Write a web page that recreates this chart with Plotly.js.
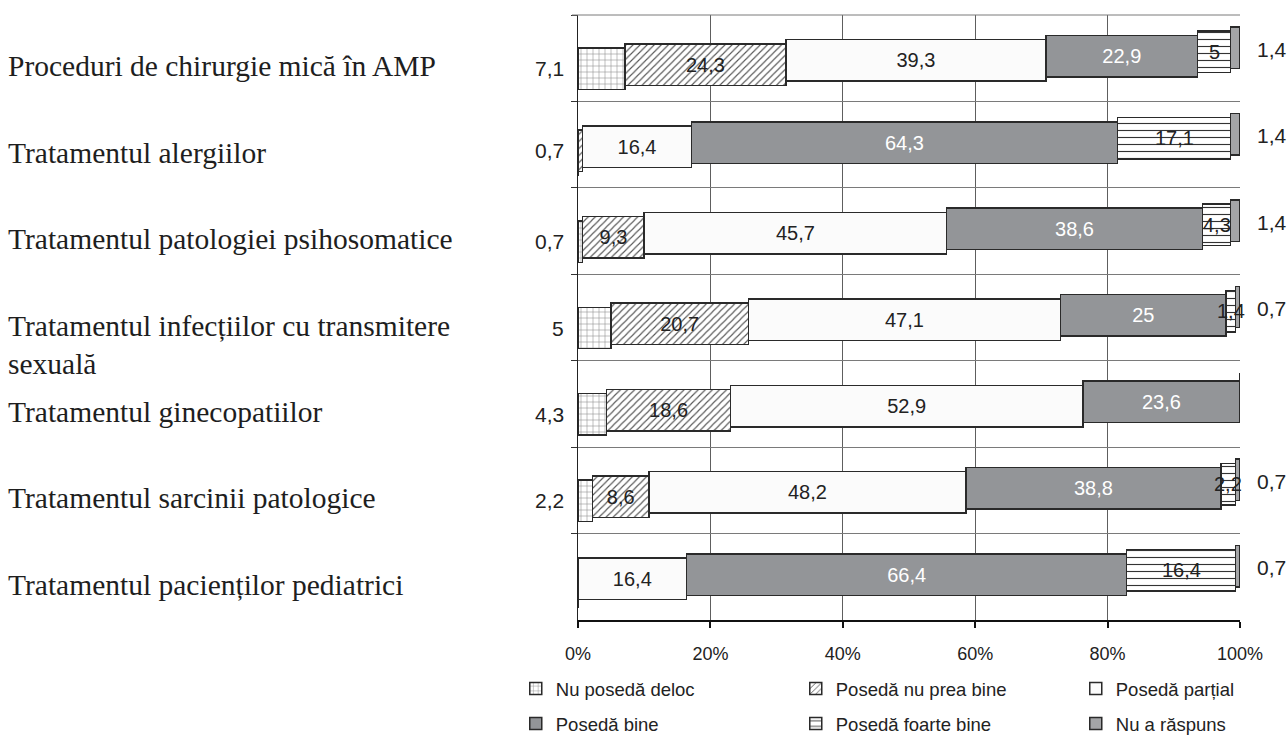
<!DOCTYPE html>
<html><head><meta charset="utf-8">
<script src="https://cdn.plot.ly/plotly-3.0.1.min.js"></script>
<style>html,body{margin:0;padding:0;background:#fff;}#chart{width:1288px;height:735px;}</style>
</head><body><div id="chart"></div>
<script>
const categories = ["Proceduri de chirurgie mică în AMP", "Tratamentul alergiilor", "Tratamentul patologiei psihosomatice", "Tratamentul infecțiilor cu transmitere<br>sexuală", "Tratamentul ginecopatiilor", "Tratamentul sarcinii patologice", "Tratamentul pacienților pediatrici"];
const seriesNames = ["Nu posedă deloc", "Posedă nu prea bine", "Posedă parțial", "Posedă bine", "Posedă foarte bine", "Nu a răspuns"];
const nuPosedaDeloc    = [7.1, 0,    0.7,  5,    4.3,  2.2,  0];
const posedaNuPreaBine = [24.3, 0.7, 9.3,  20.7, 18.6, 8.6,  0];
const posedaPartial    = [39.3, 16.4, 45.7, 47.1, 52.9, 48.2, 16.4];
const posedaBine       = [22.9, 64.3, 38.6, 25,   23.6, 38.8, 66.4];
const posedaFoarteBine = [5,    17.1, 4.3,  1.4,  0,    2.2,  16.4];
const nuARaspuns       = [1.4,  1.4,  1.4,  0.7,  0,    0.7,  0.7];
const xTickVals = [0, 20, 40, 60, 80, 100];
const xTickText = ["0%", "20%", "40%", "60%", "80%", "100%"];

const series = [nuPosedaDeloc, posedaNuPreaBine, posedaPartial, posedaBine, posedaFoarteBine, nuARaspuns];
const fmt = v => String(v).replace('.', ',');
const SANS = '"Liberation Sans", Arial, sans-serif';
const SERIF = '"Liberation Serif", "Times New Roman", serif';

const styles = [
  {color: '#ffffff', pattern: {shape: '+', fgcolor: '#8c8c8c', bgcolor: '#ffffff', size: 6, solidity: 0.18}, tc: '#222'},
  {color: '#ffffff', pattern: {shape: '/', fgcolor: '#555555', bgcolor: '#ffffff', size: 5, solidity: 0.22}, tc: '#222'},
  {color: '#fbfbfb', tc: '#222'},
  {color: '#939598', tc: '#ffffff'},
  {color: '#ffffff', pattern: {shape: '-', fgcolor: '#333333', bgcolor: '#ffffff', size: 7, solidity: 0.16}, tc: '#222'},
  {color: '#a4a5a7', tc: '#222'}
];

// which series gets its label outside-left in each row
const leftSeries = categories.map((c, i) => series[0][i] > 0 ? 0 : (series[1][i] > 0 ? 1 : -1));
// row totals (chart is normalised to 100 %)
const rowTotals = categories.map((c, i) => series.reduce((s, arr) => s + arr[i], 0));

const BW = 0.48, STEP = 0.0486, PX = 4.2;
const traces = series.map((vals, k) => {
  const text = vals.map((v, i) => {
    if (k >= 4) return '';
    if (leftSeries[i] === k) return '';
    return v > 0 ? fmt(v) : '';
  });
  const marker = {color: styles[k].color, line: {color: '#2a2a2a', width: 1.5}};
  if (styles[k].pattern) marker.pattern = styles[k].pattern;
  return {
    type: 'bar', orientation: 'h', name: seriesNames[k],
    legend: k < 3 ? 'legend' : 'legend2',
    y: categories, x: vals,
    width: BW, offset: (2.5 - k) * STEP - BW / 2,
    marker: marker,
    text: text, textposition: 'inside', insidetextanchor: 'middle',
    constraintext: 'none', textangle: 0,
    textfont: {family: SANS, size: 20, color: styles[k].tc},
    hoverinfo: 'x+name'
  };
});

const annotations = [];
categories.forEach((c, i) => {
  annotations.push({xref: 'paper', yref: 'y', x: -0.8645, y: c, xanchor: 'left', yanchor: 'top', yshift: 10,
    text: c, align: 'left', showarrow: false, font: {family: SERIF, size: 29.5, color: '#1e1e1e'}});
  const ls = leftSeries[i];
  if (ls >= 0) {
    annotations.push({xref: 'x', yref: 'y', x: 0, y: c, xanchor: 'right', yanchor: 'middle', xshift: -12,
      yshift: -(2.5 - ls) * PX, text: fmt(series[ls][i]), showarrow: false,
      font: {family: SANS, size: 21, color: '#222'}});
  }
  // "Posedă foarte bine" labels drawn on top of all bars
  const fb = posedaFoarteBine[i];
  if (fb > 0) {
    const before = series.slice(0, 4).reduce((s, arr) => s + arr[i], 0);
    annotations.push({xref: 'x', yref: 'y', x: (before + fb / 2) * 100 / rowTotals[i], y: c,
      xanchor: 'center', yanchor: 'middle', yshift: -(2.5 - 4) * PX, text: fmt(fb), showarrow: false,
      font: {family: SANS, size: 20, color: '#222'}});
  }
  if (nuARaspuns[i] > 0) {
    annotations.push({xref: 'x', yref: 'y', x: 100, y: c, xanchor: 'left', yanchor: 'middle', xshift: 15,
      yshift: 9, text: fmt(nuARaspuns[i]), showarrow: false,
      font: {family: SANS, size: 21, color: '#222'}});
  }
});

const legendBase = {orientation: 'h', xanchor: 'left', yanchor: 'middle', x: -0.094,
  entrywidth: 235, entrywidthmode: 'pixels', traceorder: 'normal',
  font: {family: SANS, size: 18.5, color: '#222'}, bgcolor: 'rgba(0,0,0,0)', itemclick: false, itemdoubleclick: false};

const layout = {
  width: 1288, height: 735,
  paper_bgcolor: '#ffffff', plot_bgcolor: '#ffffff',
  barmode: 'stack', barnorm: 'percent',
  margin: {l: 578, r: 48, t: 15, b: 115, autoexpand: false},
  showlegend: true,
  legend: Object.assign({}, legendBase, {y: -0.114}),
  legend2: Object.assign({}, legendBase, {y: -0.172}),
  xaxis: {range: [0, 100], tickvals: xTickVals, ticktext: xTickText, showgrid: true, gridcolor: '#5e5e5e', gridwidth: 1,
    ticks: 'outside', ticklen: 6, tickwidth: 2, tickcolor: '#111', showline: true, linecolor: '#111', linewidth: 2,
    ticklabelstandoff: 10,
    zeroline: false, tickfont: {family: SANS, size: 18, color: '#222'}, fixedrange: true},
  yaxis: {type: 'category', range: [6.5, -0.5], tickson: 'boundaries', ticks: 'outside', ticklen: 6, tickcolor: '#333',
    showgrid: true, gridcolor: '#7a7a7a', gridwidth: 1, showticklabels: false, showline: true, linecolor: '#222', linewidth: 1,
    zeroline: false, fixedrange: true},
  shapes: [{type: 'line', xref: 'paper', yref: 'paper', x0: -0.00906, x1: 1, y0: 1, y1: 1,
    line: {color: '#7a7a7a', width: 1}}],
  annotations: annotations
};

Plotly.newPlot('chart', traces, layout, {displayModeBar: false, staticPlot: true});
</script>
</body></html>
